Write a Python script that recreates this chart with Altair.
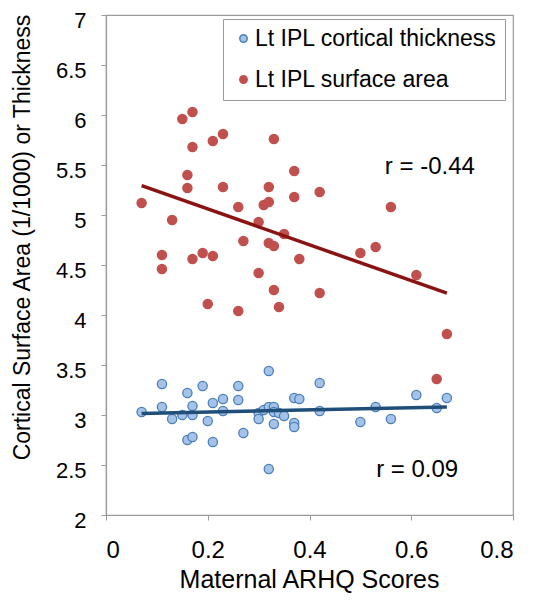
import altair as alt
import pandas as pd

# Lt IPL surface area (red)
area_x = [0.07, 0.11, 0.11, 0.13, 0.15, 0.17, 0.17, 0.16, 0.16, 0.17, 0.19, 0.20, 0.21, 0.21,
          0.23, 0.23, 0.26, 0.26, 0.27, 0.30, 0.30, 0.31, 0.32, 0.32, 0.33, 0.32, 0.33, 0.35,
          0.33, 0.34, 0.37, 0.37, 0.38, 0.42, 0.42, 0.50, 0.53, 0.56, 0.61, 0.65, 0.67]
area_y = [5.12, 4.60, 4.46, 4.95, 5.96, 6.03, 5.68, 5.40, 5.27, 4.56, 4.62, 4.11, 4.59, 5.74,
          5.81, 5.28, 5.08, 4.04, 4.74, 4.93, 4.42, 5.10, 5.13, 5.28, 5.76, 4.72, 4.69, 4.81,
          4.25, 4.08, 5.44, 5.18, 4.56, 5.23, 4.22, 4.62, 4.68, 5.08, 4.40, 3.36, 3.81]

# Lt IPL cortical thickness (blue)
thick_x = [0.07, 0.11, 0.11, 0.13, 0.15, 0.16, 0.17, 0.17, 0.16, 0.17, 0.19, 0.20, 0.21, 0.21,
           0.23, 0.23, 0.26, 0.26, 0.27, 0.30, 0.30, 0.31, 0.32, 0.32, 0.33, 0.33, 0.34, 0.35,
           0.33, 0.37, 0.38, 0.37, 0.37, 0.42, 0.42, 0.32, 0.50, 0.53, 0.56, 0.61, 0.65, 0.67]
thick_y = [3.03, 3.31, 3.08, 2.96, 3.00, 3.22, 3.09, 3.00, 2.75, 2.78, 3.29, 2.94, 3.12, 2.73,
           3.16, 3.04, 3.29, 3.15, 2.82, 3.02, 2.96, 3.05, 3.44, 3.08, 3.08, 3.03, 3.02, 2.99,
           2.91, 3.17, 3.16, 2.92, 2.88, 3.32, 3.04, 2.46, 2.93, 3.08, 2.96, 3.20, 3.07, 3.17]

series_names = ["Lt IPL cortical thickness", "Lt IPL surface area"]
fill_colors = ["#a5c3e6", "#c0504d"]
stroke_colors = ["#4a7ebb", "#c0504d"]
line_colors = ["#1f4e79", "#8b1212"]

ann_text = ["r = -0.44", "r = 0.09"]
ann_x = [0.548, 0.531]
ann_y = [5.41, 2.385]

x_ticks = [0, 0.2, 0.4, 0.6, 0.8]
y_ticks = [2, 2.5, 3, 3.5, 4, 4.5, 5, 5.5, 6, 6.5, 7]

df = pd.concat([
    pd.DataFrame({"x": thick_x, "y": thick_y, "series": series_names[0]}),
    pd.DataFrame({"x": area_x, "y": area_y, "series": series_names[1]}),
], ignore_index=True)
ann = pd.DataFrame({"x": ann_x, "y": ann_y, "label": ann_text})

FONT = "Liberation Sans"

xs = alt.X("x:Q", scale=alt.Scale(domain=[0, 0.8], nice=False),
           axis=alt.Axis(values=x_ticks, format="~g", title="Maternal ARHQ Scores", grid=False,
                         labelFontSize=24, titleFontSize=25, tickSize=5,
                         labelBaseline="alphabetic", labelPadding=37,
                         titleBaseline="alphabetic", titleY=72, titleX=203))
ys = alt.Y("y:Q", scale=alt.Scale(domain=[2, 7], nice=False),
           axis=alt.Axis(values=y_ticks, format="~g",
                         title="Cortical Surface Area (1/1000) or Thickness",
                         grid=False, labelFontSize=22, titleFontSize=23, tickSize=5,
                         labelPadding=15, labelOffset=5, titleBaseline="alphabetic",
                         titleX=-77, titleY=222, titleAngle=270, titleAlign="center"))

leg = dict(title=None, orient="none", legendX=117, legendY=4,
           labelFontSize=23, labelFont=FONT, symbolSize=55,
           symbolType="circle", padding=8, rowPadding=17,
           symbolOffset=1, labelOffset=0,
           strokeColor="#9a9a9a", fillColor="white", labelLimit=400)

points = alt.Chart(df).mark_circle(size=85, opacity=1, strokeWidth=1.3).encode(
    x=xs, y=ys,
    fill=alt.Fill("series:N", scale=alt.Scale(domain=series_names, range=fill_colors),
                  legend=alt.Legend(**leg)),
    stroke=alt.Stroke("series:N", scale=alt.Scale(domain=series_names, range=stroke_colors),
                      legend=alt.Legend(**leg)),
)

lines = []
for name, col in zip(series_names, line_colors):
    lines.append(
        alt.Chart(df).transform_filter(alt.datum.series == name)
        .transform_regression("x", "y")
        .mark_line(color=col, strokeWidth=3.5)
        .encode(x="x:Q", y="y:Q")
    )

texts = alt.Chart(ann).mark_text(align="left", baseline="alphabetic", fontSize=24,
                                 font=FONT, color="black").encode(
    x="x:Q", y="y:Q", text="label:N")

chart = alt.layer(points, *lines, texts).properties(
    width=407, height=500,
    padding={"left": 98, "top": 7, "right": 14, "bottom": 78},
    autosize=alt.AutoSizeParams(type="none"),
).configure_view(stroke="#9a9a9a", strokeWidth=1.2).configure_axis(
    domainColor="#9a9a9a", tickColor="#9a9a9a", labelColor="black", titleColor="black",
    labelFont=FONT, titleFont=FONT, titleFontWeight="normal", domainWidth=1.2,
)

chart.save("out.html", embed_options={"renderer": "svg", "actions": False})
